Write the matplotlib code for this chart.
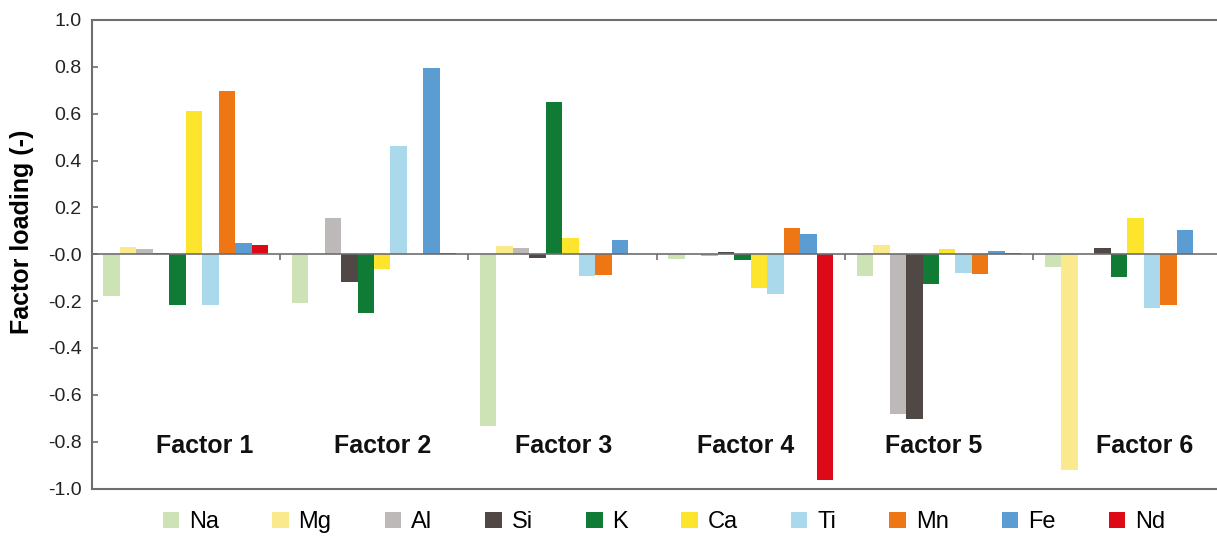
import numpy as np
import matplotlib
matplotlib.use("Agg")
import matplotlib.pyplot as plt
from matplotlib.patches import Patch

plt.rcParams["font.family"] = ["Liberation Sans", "DejaVu Sans"]
plt.rcParams["axes.unicode_minus"] = False

# Factor loadings of each element on the six extracted factors
factors = ["Factor 1", "Factor 2", "Factor 3", "Factor 4", "Factor 5", "Factor 6"]
elements = ["Na", "Mg", "Al", "Si", "K", "Ca", "Ti", "Mn", "Fe", "Nd"]

na = [-0.18, -0.21, -0.735, -0.02, -0.094, -0.054]
mg = [0.031, 0.0, 0.035, 0.0, 0.041, -0.922]
al = [0.024, 0.156, 0.028, -0.008, -0.682, 0.0]
si = [0.007, -0.12, -0.018, 0.01, -0.702, 0.027]
k = [-0.217, -0.252, 0.648, -0.025, -0.125, -0.096]
ca = [0.61, -0.061, 0.071, -0.146, 0.024, 0.155]
ti = [-0.217, 0.461, -0.094, -0.171, -0.082, -0.228]
mn = [0.698, 0.0, -0.087, 0.112, -0.085, -0.217]
fe = [0.048, 0.793, 0.060, 0.085, 0.014, 0.105]
nd = [0.041, 0.005, 0.0, -0.962, 0.005, 0.0]

series = [na, mg, al, si, k, ca, ti, mn, fe, nd]
colors = ["#cde3b5", "#fae98d", "#bdb9b9", "#4f4845", "#0f7b34",
          "#fde52d", "#a9d9eb", "#ef7614", "#5b9dd3", "#dd0916"]

# horizontal placement of the factor names inside each group
label_offsets = [0.603, 0.548, 0.509, 0.471, 0.474, 0.590]

W, H = 1217, 537
fig = plt.figure(figsize=(W / 100, H / 100), dpi=100)
ax = fig.add_axes([91.5 / W, 1 - 488.5 / H, 1130 / W, 468.5 / H])

n_groups = len(factors)
n_el = len(elements)
bar_w = 0.0875
margin = (1 - n_el * bar_w) / 2
groups = np.arange(n_groups)

for j, (vals, col) in enumerate(zip(series, colors)):
    x = groups + margin + j * bar_w
    ax.bar(x, vals, width=bar_w, align="edge", color=col, linewidth=0, zorder=2)

spine_col = "#6e6e6e"
ax.axhline(0, color=spine_col, linewidth=1.2, zorder=3)
ax.vlines(groups[1:], -0.026, 0, color=spine_col, linewidth=1.2, zorder=3)

for g, (name, off) in enumerate(zip(factors, label_offsets)):
    ax.text(g + off, -0.82, name, ha="center", va="center",
            fontsize=18, fontweight="bold", color="#111111")

ax.set_xlim(0, n_groups)
ax.set_ylim(-1.0, 1.0)
ax.set_xticks([])
yt = np.round(np.arange(-1.0, 1.01, 0.2), 1)
ax.set_yticks(yt)
ax.set_yticklabels([f"{v:.1f}" for v in yt])
ax.tick_params(axis="y", direction="in", length=4.5, width=1.2, color=spine_col,
               labelsize=14, labelcolor="#222222", pad=7)

for s in ax.spines.values():
    s.set_color(spine_col)
    s.set_linewidth(1.5)

ax.set_ylabel("Factor loading (-)", fontsize=18, fontweight="bold", va="center")
ax.yaxis.set_label_coords((22 - 91.5) / 1130, (488.5 - 232) / 468.5)

handles = [Patch(facecolor=c, edgecolor="none", label=e) for c, e in zip(colors, elements)]
fig.legend(handles=handles, loc="center", bbox_to_anchor=(664 / W, 1 - 522 / H),
           ncol=n_el, frameon=False, fontsize=17, handlelength=0.7, handleheight=0.65,
           handletextpad=0.42, columnspacing=2.25, borderaxespad=0)

fig.savefig("out.png", dpi=100)
